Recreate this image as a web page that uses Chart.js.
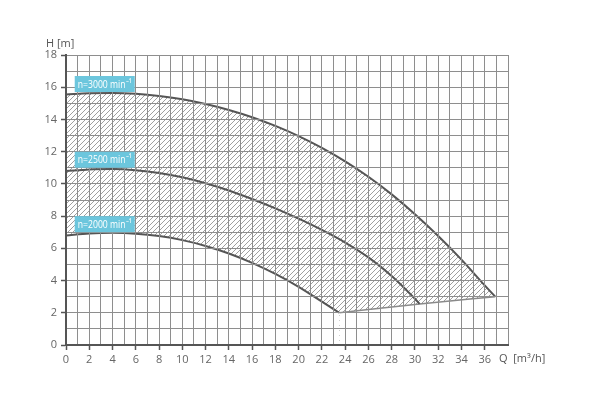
<!DOCTYPE html>
<html><head><meta charset="utf-8">
<script src="https://cdn.jsdelivr.net/npm/chart.js@4/dist/chart.umd.min.js"></script>
<style>html,body{margin:0;padding:0;background:#fff}</style>
</head><body>
<canvas id="c" width="598" height="410"></canvas>
<script>
// ---- data ----
const q3000 = [0, 2, 4, 6, 8, 10, 12, 14, 16, 18, 20, 22, 24, 26, 28, 30, 32, 34, 36, 36.9];
const h3000 = [15.55, 15.62, 15.64, 15.59, 15.46, 15.25, 14.96, 14.59, 14.14, 13.6, 12.97, 12.24, 11.4, 10.44, 9.35, 8.12, 6.77, 5.3, 3.7, 3.0];
const q2500 = [0, 2, 4, 6, 8, 10, 12, 14, 16, 18, 20, 22, 24, 26, 28, 30, 30.4];
const h2500 = [10.8, 10.9, 10.92, 10.85, 10.68, 10.41, 10.04, 9.59, 9.06, 8.48, 7.84, 7.14, 6.36, 5.44, 4.29, 2.87, 2.55];
const q2000 = [0, 2, 4, 6, 8, 10, 12, 14, 16, 18, 20, 22, 23.5];
const h2000 = [6.8, 6.92, 6.96, 6.91, 6.76, 6.51, 6.15, 5.68, 5.1, 4.41, 3.61, 2.69, 2.0];
const qLimit = [23.5, 30.4, 36.9];
const hLimit = [2.0, 2.55, 3.0];
const speedLabels = ['n=3000 min\u207B\u00B9', 'n=2500 min\u207B\u00B9', 'n=2000 min\u207B\u00B9'];
const speedLabelH = [16.2, 11.5, 7.5];
const speedLabelQ = [0.75, 0.75, 0.75];
const xTickLabels = [0, 2, 4, 6, 8, 10, 12, 14, 16, 18, 20, 22, 24, 26, 28, 30, 32, 34, 36];
const yTickLabels = [0, 2, 4, 6, 8, 10, 12, 14, 16, 18];
const xTitle = 'Q  [m\u00B3/h]';
const yTitle = 'H [m]';

const pts = (qs, hs) => qs.map((q, i) => ({x: q, y: hs[i]}));

// hatch pattern
const tile = document.createElement('canvas');
tile.width = 5; tile.height = 5;
const tc = tile.getContext('2d');
tc.strokeStyle = '#a0a0a0'; tc.lineWidth = 1;
tc.beginPath();
tc.moveTo(-1, 6); tc.lineTo(6, -1);
tc.moveTo(-1, 1); tc.lineTo(1, -1);
tc.moveTo(4, 6); tc.lineTo(6, 4);
tc.stroke();
const hatch = tc.createPattern(tile, 'repeat');

const FONT = '"Open Sans", "Liberation Sans", sans-serif';

const textPlugin = {
  id: 'texts',
  afterDraw(chart) {
    const {ctx, scales: {x, y}, chartArea} = chart;
    ctx.save();
    ctx.font = '11px ' + FONT;
    ctx.textBaseline = 'middle';
    ctx.textAlign = 'left';
    const textW = 54;
    speedLabels.forEach((t, i) => {
      const w = ctx.measureText(t).width;
      const sx = Math.min(1, textW / w);
      const left = x.getPixelForValue(speedLabelQ[i]);
      const cy = y.getPixelForValue(speedLabelH[i]);
      ctx.fillStyle = '#6cc6dd';
      ctx.fillRect(left, cy - 8, textW + 6, 16);
      ctx.fillStyle = '#ffffff';
      ctx.save();
      ctx.translate(left + 3, cy + 0.5);
      ctx.scale(sx, 1);
      ctx.fillText(t, 0, 0);
      ctx.restore();
    });
    ctx.fillStyle = '#555';
    ctx.font = '11px ' + FONT;
    ctx.fillText(yTitle, chartArea.left - 20, chartArea.top - 11);
    ctx.fillText(xTitle, chartArea.right - 9, chartArea.bottom + 14);
    ctx.restore();
  }
};

const lineBase = {pointRadius: 0, borderWidth: 2, borderColor: '#555', cubicInterpolationMode: 'monotone'};

new Chart(document.getElementById('c'), {
  type: 'line',
  data: {
    datasets: [
      Object.assign({label: '2500', data: pts(q2500, h2500), fill: false}, lineBase),
      Object.assign({label: '2000', data: pts(q2000, h2000), fill: 'origin', backgroundColor: '#ffffff'}, lineBase),
      Object.assign({}, lineBase, {label: 'limit', data: pts(qLimit, hLimit), fill: 'origin', backgroundColor: '#ffffff', borderColor: '#8a8a8a', borderWidth: 1.5}),
      Object.assign({label: '3000', data: pts(q3000, h3000), fill: 'origin', backgroundColor: hatch}, lineBase)
    ]
  },
  plugins: [textPlugin],
  options: {
    responsive: false,
    animation: false,
    events: [],
    layout: {padding: {left: 0, right: 90, top: 55, bottom: 35}},
    plugins: {legend: {display: false}, tooltip: {enabled: false}},
    scales: {
      x: {
        type: 'linear', min: 0, max: 38,
        afterFit(s) { s.height = 30; },
        grid: {z: 1, color: '#8e8e8e', lineWidth: 1, tickLength: 5,
               tickColor: c => xTickLabels.includes(c.tick.value) ? '#555' : 'rgba(0,0,0,0)', tickWidth: 1.5},
        border: {z: 2, color: '#555', width: 2},
        ticks: {stepSize: 1, autoSkip: false, maxRotation: 0, padding: 3, color: '#666',
                font: {family: FONT, size: 11},
                callback: v => xTickLabels.includes(v) ? String(v) : ''}
      },
      y: {
        type: 'linear', min: 0, max: 18,
        afterFit(s) { s.width = 66; },
        grid: {z: 1, color: '#8e8e8e', lineWidth: 1, tickLength: 5,
               tickColor: c => yTickLabels.includes(c.tick.value) ? '#555' : 'rgba(0,0,0,0)', tickWidth: 1.5},
        border: {z: 2, color: '#555', width: 2},
        ticks: {stepSize: 1, autoSkip: false, padding: 4, color: '#666',
                font: {family: FONT, size: 11},
                callback: v => yTickLabels.includes(v) ? String(v) : ''}
      }
    }
  }
});
</script>
</body></html>
